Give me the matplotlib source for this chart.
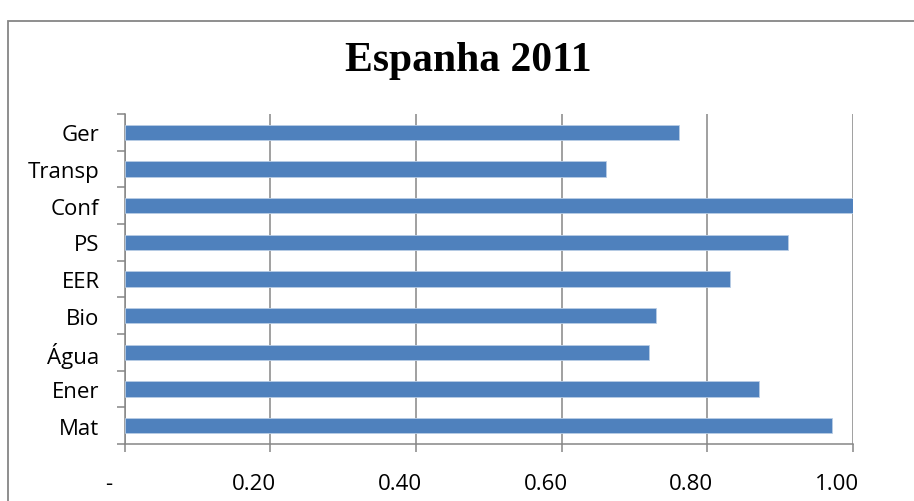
import matplotlib
matplotlib.use("Agg")
import matplotlib.pyplot as plt
import matplotlib.transforms as mtransforms
from matplotlib.patches import Rectangle

# Espanha 2011 indicator scores, bottom to top
categories = ["Mat", "Ener", "Água", "Bio", "EER", "PS", "Conf", "Transp", "Ger"]
values = [0.971, 0.871, 0.720, 0.730, 0.831, 0.911, 1.00, 0.661, 0.761]
xticks = [0.0, 0.2, 0.4, 0.6, 0.8, 1.0]
xlabels = ["-", "0.20", "0.40", "0.60", "0.80", "1.00"]

W, H = 914, 502
fig = plt.figure(figsize=(W / 100, H / 100), dpi=100)
grey = "#868686"

# outer chart frame
fig.patches.append(Rectangle((8 / W, -0.1), 1.2, (H - 22) / H + 0.1,
                             transform=fig.transFigure, fill=False,
                             edgecolor=grey, linewidth=1.3))

ax = fig.add_axes([124.5 / W, 57 / H, (853 - 124.5) / W, 330 / H])

ypos = list(range(len(categories)))
ax.barh(ypos, values, height=0.41, color="#4F81BD",
        edgecolor="#B9CDE5", linewidth=0.6, zorder=3)

ax.set_xlim(0, 1.0)
ax.set_ylim(-0.5, len(categories) - 0.5)

ax.set_xticks(xticks)
ax.set_xticklabels(xlabels, fontsize=16, family="Open Sans")
ax.xaxis.grid(True, color=grey, linewidth=1.1, zorder=0)
ax.set_axisbelow(True)

# category ticks sit on the boundaries between bars
ax.set_yticks([y + 0.5 for y in ypos[:-1]] + [-0.5, len(categories) - 0.5])
ax.set_yticklabels([])
ax.set_yticks(ypos, minor=True)
ax.set_yticklabels(categories, minor=True, fontsize=16, family="Open Sans")
ax.tick_params(axis="y", which="minor", length=0, pad=18)
ax.tick_params(axis="y", which="major", length=6, width=1.1, color=grey, direction="out")
ax.tick_params(axis="x", length=6, width=1.1, color=grey, direction="out", pad=15)

# number labels sit a little left of their tick
offset = mtransforms.ScaledTranslation(-16 / 100, 0, fig.dpi_scale_trans)
for lbl in ax.get_xticklabels():
    lbl.set_transform(lbl.get_transform() + offset)

for side in ["top", "right"]:
    ax.spines[side].set_visible(False)
for side in ["left", "bottom"]:
    ax.spines[side].set_color(grey)
    ax.spines[side].set_linewidth(1.1)

fig.text(468 / W, 1 - 61 / H, "Espanha 2011", ha="center", va="center",
         fontsize=30, fontweight="bold", family="Liberation Serif")

fig.savefig("out.png", dpi=100)
